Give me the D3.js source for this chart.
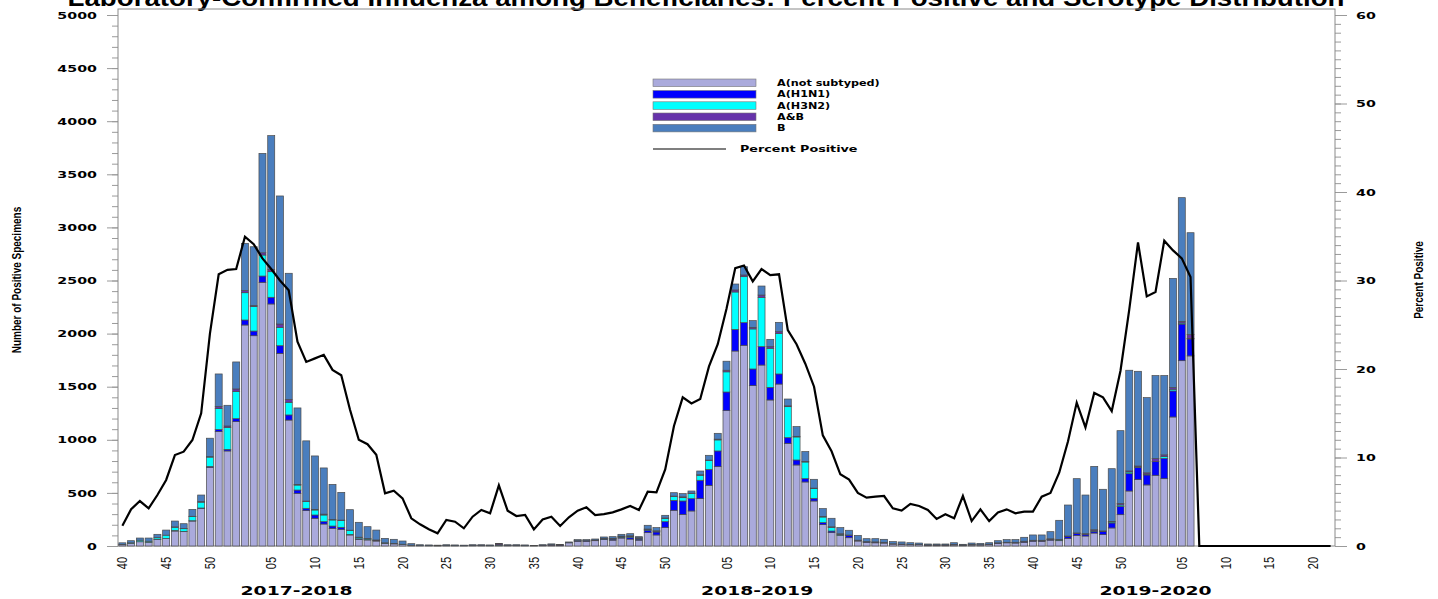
<!DOCTYPE html>
<html><head><meta charset="utf-8">
<script src="https://cdn.jsdelivr.net/npm/d3@7"></script>
<style>body{margin:0;background:#fff}svg{display:block}</style>
</head><body>
<svg id="chart" width="1438" height="599"></svg>
<script>
// ---------------- DATA ----------------
// Weekly categories: 2017 wk40 .. 2020 wk22
const yearSpans = [[2017, 40, 52], [2018, 1, 52], [2019, 1, 52], [2020, 1, 22]];
const tickLabels = ["40","45","50","05","10","15","20","25","30","35","40","45","50",
                    "05","10","15","20","25","30","35","40","45","50","05","10","15","20"];
const seasonLabels = ["2017-2018", "2018-2019", "2019-2020"];
const seriesNames = ["A(not subtyped)", "A(H1N1)", "A(H3N2)", "A&B", "B"];

const aNotSubtyped = [12,25,40,35,63,72,141,135,235,355,741,1077,895,1171,2081,1980,2483,2279,1814,1186,
  496,333,261,207,166,157,104,63,57,47,25,20,15,8,4,3,2,3,3,2,
  4,4,3,8,4,5,3,2,5,8,6,30,45,45,50,60,55,75,65,55,
  126,104,173,336,298,330,446,571,747,1275,1836,1890,1510,1704,1375,1525,967,763,603,424,
  201,126,100,78,47,35,30,28,18,15,12,12,8,8,8,10,6,10,10,12,
  25,30,28,35,45,45,55,50,72,100,94,122,107,170,295,518,625,575,666,634,
  1215,1745,1790];
const aH1N1 = [0,0,0,0,2,0,5,3,3,3,8,20,15,28,47,44,59,63,72,48,
  31,22,31,22,22,19,5,5,3,3,0,0,0,0,0,0,0,0,0,0,
  0,0,0,0,0,0,0,0,0,0,2,0,3,3,3,5,10,8,15,10,
  22,28,56,94,126,116,173,151,148,175,204,213,157,173,119,95,53,47,31,25,
  19,15,0,20,5,3,3,2,0,0,0,0,0,0,0,0,0,2,0,2,
  3,3,3,5,5,3,5,3,16,18,16,16,28,47,78,163,113,94,129,192,
  245,345,160];
const aH3N2 = [0,5,15,10,15,30,31,25,40,55,88,198,205,255,257,231,198,241,173,119,
  47,63,47,63,57,63,37,12,8,5,3,3,2,0,0,0,0,0,0,0,
  0,0,0,2,0,0,0,0,0,0,0,0,0,0,0,3,3,5,8,8,
  9,8,31,35,31,47,47,82,104,190,352,433,377,464,368,382,292,217,157,91,
  53,35,10,0,0,0,2,2,0,0,0,0,0,0,0,3,0,0,0,0,
  0,0,2,2,2,2,3,5,0,0,0,5,0,10,13,16,5,8,0,16,
  16,10,5];
const aAndB = [3,0,0,0,0,0,3,2,2,5,5,20,15,25,20,10,21,22,31,28,
  6,5,6,8,5,5,3,3,2,2,2,2,0,0,0,2,1,2,2,2,
  3,3,2,10,3,2,2,1,3,5,3,3,2,2,3,5,5,5,8,5,
  3,3,4,5,8,5,5,5,7,15,19,16,15,22,15,16,8,6,6,5,
  6,5,5,5,3,3,4,3,3,3,2,2,2,2,2,3,2,3,2,3,
  2,2,2,3,2,4,5,4,6,5,6,10,7,5,15,10,10,12,28,16,
  16,15,35];
const bType = [15,20,20,30,30,48,55,45,65,62,173,305,195,254,445,553,936,1259,1206,1187,
  720,567,503,435,330,261,193,140,112,93,42,38,30,14,8,5,5,7,5,4,
  5,5,5,5,5,5,5,2,4,7,4,5,10,10,10,12,15,17,20,10,
  35,30,25,32,30,20,35,45,55,85,56,78,63,85,69,88,64,91,92,83,
  73,80,58,45,45,28,30,28,20,20,17,14,9,9,9,15,8,13,13,14,
  20,25,25,37,50,50,67,180,292,511,364,597,392,496,685,948,892,708,782,747,
  1028,1165,960];
const percentPositive = [2.3,4.15,5.08,4.26,5.76,7.46,10.28,10.66,11.98,14.99,24.0,30.7,31.2,31.3,34.95,34.1,32.5,31.3,30.0,28.9,
  23.1,20.8,21.2,21.6,19.9,19.3,15.4,12.0,11.5,10.3,5.95,6.25,5.39,3.13,2.45,1.89,1.43,2.94,2.75,2.0,
  3.31,4.07,3.69,6.85,3.99,3.39,3.5,1.88,3.0,3.31,2.26,3.24,3.99,4.37,3.5,3.6,3.8,4.14,4.52,4.07,
  6.14,6.06,8.66,13.56,16.8,16.1,16.6,20.3,22.8,26.8,31.4,31.7,29.9,31.3,30.6,30.7,24.4,22.8,20.6,18.0,
  12.5,10.7,8.1,7.5,6.0,5.46,5.57,5.65,4.26,4.0,4.75,4.52,4.07,3.05,3.58,3.13,5.65,2.82,4.14,2.82,
  3.8,4.14,3.69,3.88,3.88,5.57,6.0,8.28,11.8,16.2,13.4,17.3,16.8,15.25,19.8,26.7,34.3,28.2,28.7,34.5,
  33.4,32.5,30.4,0,0,0,0,0,0,0,0,0,0,0,0,0,0,0,0,0];

// ---------------- BUILD ----------------
const weeks = [];
yearSpans.forEach(([yr, a, b]) => { for (let w = a; w <= b; w++) weeks.push({yr, w}); });
const idx = d3.range(weeks.length);

const colors = ["#AAAADC", "#0000FF", "#00FFFF", "#6633AA", "#4A7EBE"];
const keys = ["ans", "h1", "h3", "ab", "b"];
const table = aNotSubtyped.map((v, i) => ({i, ans: v, h1: aH1N1[i], h3: aH3N2[i], ab: aAndB[i], b: bType[i]}));
const stacked = d3.stack().keys(keys)(table);

const svg = d3.select("#chart");
const L = 118, R = 1335, T = 9, B = 546;
const x = d3.scaleBand().domain(idx).range([L, R]).paddingInner(0.2).paddingOuter(0.1);
const y = d3.scaleLinear().domain([0, 5000]).range([B, 15]);
const y2 = d3.scaleLinear().domain([0, 60]).range([B, 15]);
const bw = x.bandwidth();

// Title (partially cut at top like the reference)
svg.append("text").attr("x", 706).attr("y", 6).attr("text-anchor", "middle")
  .attr("font-family", "Liberation Sans, Arial, sans-serif").attr("font-weight", "bold")
  .attr("font-size", 24).attr("textLength", 1277).attr("lengthAdjust", "spacingAndGlyphs")
  .text("Laboratory-Confirmed Influenza among Beneficiaries: Percent Positive and Serotype Distribution");

// Left axis
const gL = svg.append("g").attr("transform", `translate(${L},0)`);
gL.call(d3.axisLeft(y).tickValues(d3.range(0, 5001, 100)).tickSize(6).tickFormat(""));
gL.append("g").call(d3.axisLeft(y).tickValues(d3.range(0, 5001, 500)).tickSize(11).tickFormat(d3.format("d")));
gL.selectAll(".domain").remove();
gL.selectAll("line").attr("stroke", "#9a9a9a");
gL.selectAll("text").attr("x", null).attr("dy", null)
  .attr("dominant-baseline", "central").attr("text-anchor", "end")
  .attr("transform", "translate(-21,0) scale(1.5,1)")
  .attr("font-family", "DejaVu Sans, sans-serif").attr("font-weight", "bold").attr("font-size", 9.5).attr("fill", "#000");

// Right axis
const gR = svg.append("g").attr("transform", `translate(${R},0)`);
gR.call(d3.axisRight(y2).tickValues(d3.range(0, 61, 1)).tickSize(6).tickFormat(""));
gR.append("g").call(d3.axisRight(y2).tickValues(d3.range(0, 61, 10)).tickSize(12).tickFormat(d3.format("d")));
gR.selectAll(".domain").remove();
gR.selectAll("line").attr("stroke", "#9a9a9a");
gR.selectAll("text").attr("x", null).attr("dy", null)
  .attr("dominant-baseline", "central").attr("text-anchor", "start")
  .attr("transform", "translate(21,0) scale(1.5,1)")
  .attr("font-family", "DejaVu Sans, sans-serif").attr("font-weight", "bold").attr("font-size", 9.5).attr("fill", "#000");

// Frame
svg.append("rect").attr("x", L).attr("y", T).attr("width", R - L).attr("height", B - T)
  .attr("fill", "none").attr("stroke", "#8a8a8a").attr("stroke-width", 1);

// Bars
const gBars = svg.append("g");
stacked.forEach((layer, k) => {
  gBars.append("g").attr("fill", colors[k]).selectAll("rect").data(layer).join("rect")
    .attr("x", d => x(d.data.i)).attr("width", bw)
    .attr("y", d => y(d[1])).attr("height", d => Math.max(0, y(d[0]) - y(d[1])))
    .attr("stroke", "#4a4a4a").attr("stroke-width", 0.7);
});

// Percent positive line
const line = d3.line().x((d, i) => x(i) + bw / 2).y(d => y2(d));
svg.append("path").datum(percentPositive).attr("d", line)
  .attr("fill", "none").attr("stroke", "#000").attr("stroke-width", 2.2).attr("stroke-linejoin", "miter");

// X tick labels
const tickIdx = idx.filter(i => weeks[i].w % 5 === 0);
const gX = svg.append("g");
tickIdx.forEach((ti, k) => {
  gX.append("text").attr("transform", `translate(${x(ti) + bw / 2},557) rotate(-90) scale(1,1.3)`)
    .attr("text-anchor", "end").attr("dominant-baseline", "central")
    .attr("font-family", "Liberation Sans, Arial, sans-serif").attr("font-size", 11).attr("fill", "#111")
    .text(tickLabels[k]);
});

// Season labels
const seasonAnchor = [19.9, 72.5, 118];
seasonLabels.forEach((s, k) => {
  svg.append("text").attr("transform", `translate(${x(0) + bw / 2 + seasonAnchor[k] * x.step()},595) scale(1.5,1)`)
    .attr("text-anchor", "middle").attr("font-family", "DejaVu Sans, sans-serif")
    .attr("font-weight", "bold").attr("font-size", 12.5).text(s);
});

// Axis titles
svg.append("text").attr("transform", "translate(17,280) rotate(-90) scale(1,1.3)")
  .attr("text-anchor", "middle").attr("dominant-baseline", "central")
  .attr("font-family", "Liberation Sans, Arial, sans-serif").attr("font-weight", "bold").attr("font-size", 10)
  .text("Number of Positive Specimens");
svg.append("text").attr("transform", "translate(1419,280) rotate(-90) scale(1,1.3)")
  .attr("text-anchor", "middle").attr("dominant-baseline", "central")
  .attr("font-family", "Liberation Sans, Arial, sans-serif").attr("font-weight", "bold").attr("font-size", 10)
  .text("Percent Positive");

// Legend
const gLeg = svg.append("g");
const rowY = [79, 90.5, 101.8, 113, 124.3];
seriesNames.forEach((name, k) => {
  gLeg.append("rect").attr("x", 653).attr("y", rowY[k]).attr("width", 103).attr("height", 7.6)
    .attr("fill", colors[k]).attr("stroke", "#777").attr("stroke-width", 0.6);
  gLeg.append("text").attr("transform", `translate(777,${rowY[k] + 3.9}) scale(1.4,1)`)
    .attr("dominant-baseline", "central").attr("font-family", "DejaVu Sans, sans-serif")
    .attr("font-weight", "bold").attr("font-size", 8).text(name);
});
gLeg.append("line").attr("x1", 653).attr("x2", 726).attr("y1", 149).attr("y2", 149)
  .attr("stroke", "#000").attr("stroke-width", 1.2);
gLeg.append("text").attr("transform", "translate(740,149.5) scale(1.5,1)")
  .attr("dominant-baseline", "central").attr("font-family", "DejaVu Sans, sans-serif")
  .attr("font-weight", "bold").attr("font-size", 8.5).text("Percent Positive");
</script>
</body></html>
